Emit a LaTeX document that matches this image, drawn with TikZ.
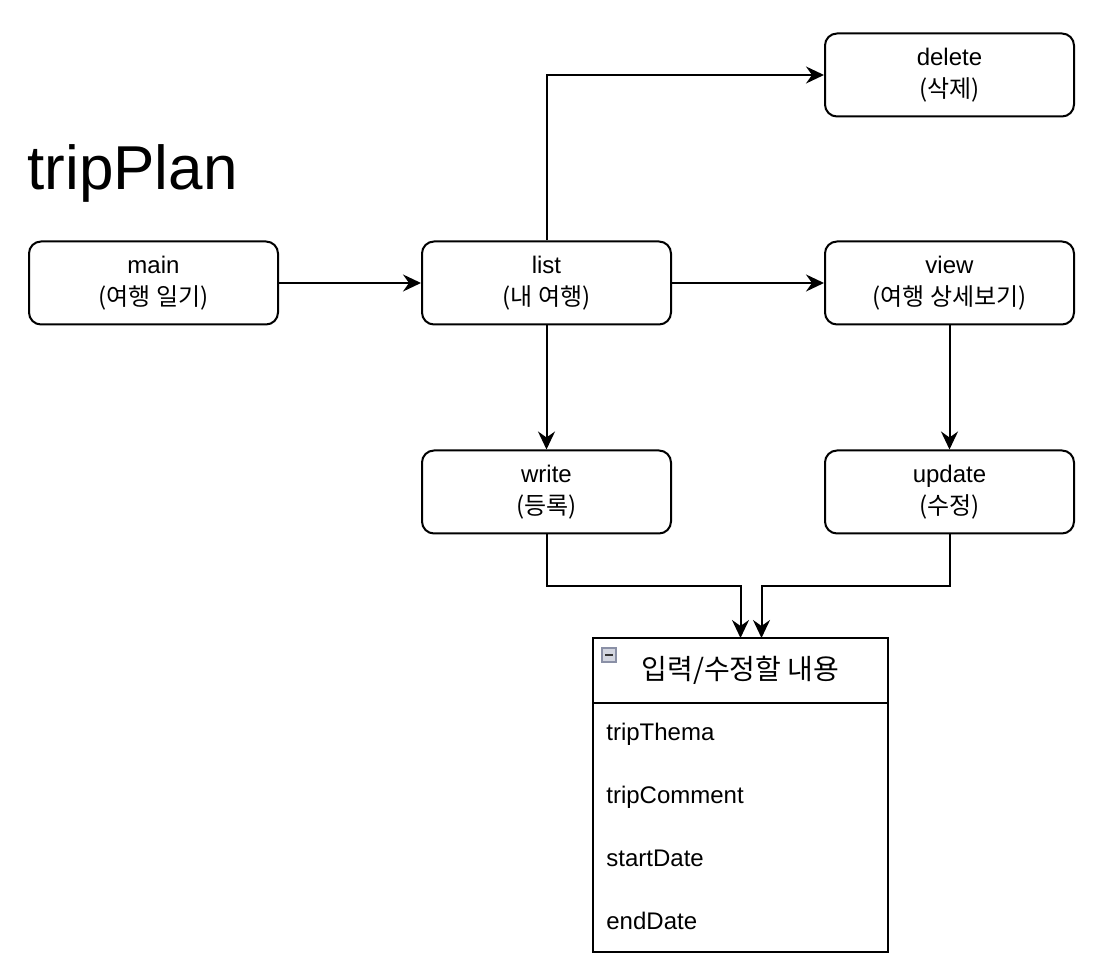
\documentclass[tikz,border=0pt]{standalone}
\usepackage{fontspec}
\setmainfont{Liberation Sans}
\newfontfamily\kr{Noto Sans CJK KR}
\usetikzlibrary{positioning,arrows.meta}

\definecolor{iconfill}{HTML}{D3D6E0}
\definecolor{iconline}{HTML}{8A90A6}

\begin{document}
\begin{tikzpicture}[
	x=0.5pt, y=-0.5pt,
	pagebox/.style={rectangle, rounded corners=6pt, draw=black, line width=1pt, minimum width=124.5pt, minimum height=41.5pt, align=center, font=\fontsize{12}{16}\selectfont},
	tablebox/.style={rectangle, draw=black, line width=1pt, outer sep=0pt, minimum width=147.5pt},
	fieldtext/.style={anchor=base west, inner sep=0pt, font=\fontsize{12}{15}\selectfont},
	arr/.style={-{Stealth[length=9pt,width=8.5pt,inset=3pt]}, line width=1pt},
	]
	\useasboundingbox (0,0) rectangle (1110,967);
	%Title
	\node[anchor=base west, inner sep=0pt, font=\fontsize{31}{37}\selectfont] (title) at (27,190) {tripPlan};
	
	%Nodes
	\node[pagebox]      (main)     at (153.5,283)          {main\\{\kr(여행 일기)}};
	\node[pagebox]      (list)     [right=71pt of main]    {list\\{\kr(내 여행)}};
	\node[pagebox]      (view)     [right=76pt of list]    {view\\{\kr(여행 상세보기)}};
	\node[pagebox]      (delete)   [above=61.5pt of view]  {delete\\{\kr(삭제)}};
	\node[pagebox]      (write)    [below=62pt of list]    {write\\{\kr(등록)}};
	\node[pagebox]      (update)   [below=62pt of view]    {update\\{\kr(수정)}};
	
	%Table
	\node[tablebox, minimum height=32.5pt, anchor=north west, font=\kr\fontsize{14}{16}\selectfont] (form) at (593,638) {입력/수정할 내용};
	\node[tablebox, minimum height=124.5pt, anchor=north] (fields) at (form.south) {};
	\node[fieldtext]    (thema)    at (606,741)          {tripThema};
	\node[fieldtext]    (comment)  at (606,804)          {tripComment};
	\node[fieldtext]    (start)    at (606,867)          {startDate};
	\node[fieldtext]    (end)      at (606,930)          {endDate};
	\draw[fill=iconfill, draw=iconline, line width=0.6pt] (602,648) rectangle (616,662);
	\draw[line width=1.2pt, black!80] (605,655) -- (613,655);
	
	%Lines
	\draw[arr] (main) -- (list);
	\draw[arr] (list) -- (view);
	\draw[arr] (list.north) |- (delete.west);
	\draw[arr] (list) -- (write);
	\draw[arr] (view) -- (update);
	\draw[arr] (write.south) -- ++(0,-26pt) -| (form.north);
	\draw[arr] (update.south) -- ++(0,-26pt) -| ([xshift=10.5pt]form.north);
\end{tikzpicture}
\end{document}
